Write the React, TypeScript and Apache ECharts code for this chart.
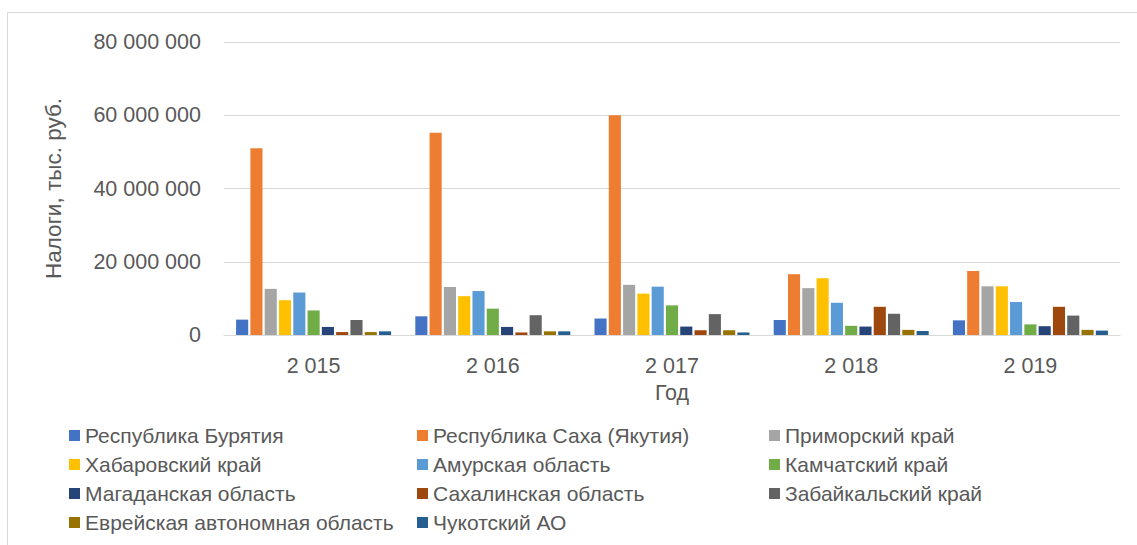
import React, { useEffect, useRef } from "react";
import * as echarts from "echarts";

const years = ["2 015", "2 016", "2 017", "2 018", "2 019"];
const regions = [
  "Республика Бурятия",
  "Республика Саха (Якутия)",
  "Приморский край",
  "Хабаровский край",
  "Амурская область",
  "Камчатский край",
  "Магаданская область",
  "Сахалинская область",
  "Забайкальский край",
  "Еврейская автономная область",
  "Чукотский АО",
];
const colors = [
  "#4472C4", "#ED7D31", "#A5A5A5", "#FFC000", "#5B9BD5", "#70AD47",
  "#264478", "#9E480E", "#636363", "#997300", "#255E91",
];
// values in thousand rubles, per region, for 2015..2019
const buryatia = [4200000, 5100000, 4500000, 4100000, 4000000];
const sakha = [51000000, 55200000, 60000000, 16600000, 17500000];
const primorsky = [12600000, 13100000, 13700000, 12800000, 13300000];
const khabarovsk = [9500000, 10600000, 11300000, 15500000, 13300000];
const amur = [11600000, 12000000, 13200000, 8800000, 9000000];
const kamchatka = [6700000, 7200000, 8100000, 2500000, 2900000];
const magadan = [2200000, 2200000, 2300000, 2300000, 2400000];
const sakhalin = [800000, 700000, 1300000, 7700000, 7700000];
const zabaikal = [4100000, 5400000, 5700000, 5800000, 5300000];
const jewish = [800000, 1000000, 1300000, 1400000, 1400000];
const chukotka = [1000000, 1000000, 700000, 1100000, 1200000];
const seriesValues = [
  buryatia, sakha, primorsky, khabarovsk, amur, kamchatka,
  magadan, sakhalin, zabaikal, jewish, chukotka,
];
const yTicks = { min: 0, max: 80000000, interval: 20000000 };
const legendColumns = [
  [0, 3, 6, 9],
  [1, 4, 7, 10],
  [2, 5, 8],
];
const legendLefts = [64, 412, 764];

const FONT = "'Liberation Sans', Arial, sans-serif";
const TEXT = "#595959";

function fmt(v: number): string {
  return String(Math.round(v)).replace(/\B(?=(\d{3})+(?!\d))/g, " ");
}

export default function App() {
  const ref = useRef<HTMLDivElement>(null);
  useEffect(() => {
    document.body.style.margin = "0";
    const chart = echarts.init(ref.current!, null, { renderer: "svg" });
    chart.setOption({
      animation: false,
      textStyle: { fontFamily: FONT },
      graphic: [
        {
          type: "rect",
          shape: { x: 7.5, y: 12.5, width: 1160, height: 560 },
          style: { fill: "none", stroke: "#d9d9d9", lineWidth: 1 },
          silent: true,
          z: -10,
        },
      ],
      grid: { left: 224, right: 17, top: 42, bottom: 210, containLabel: false },
      legend: legendColumns.map((col, i) => ({
        orient: "vertical",
        left: legendLefts[i],
        top: 420,
        itemWidth: 11,
        itemHeight: 11,
        itemGap: 8,
        icon: "rect",
        data: col.map((k) => regions[k]),
        textStyle: { fontSize: 21, color: TEXT, fontFamily: FONT, lineHeight: 20 },
        selectedMode: false,
      })),
      xAxis: {
        type: "category",
        data: years,
        name: "Год",
        nameLocation: "middle",
        nameGap: 44,
        nameTextStyle: { fontSize: 21.5, color: TEXT, fontFamily: FONT },
        axisLine: { show: true, lineStyle: { color: "#d9d9d9", width: 1 } },
        axisTick: { show: false },
        axisLabel: { fontSize: 21.5, color: TEXT, margin: 20, fontFamily: FONT },
      },
      yAxis: {
        type: "value",
        min: yTicks.min,
        max: yTicks.max,
        interval: yTicks.interval,
        name: "Налоги, тыс. руб.",
        nameLocation: "middle",
        nameGap: 159,
        nameTextStyle: { fontSize: 22.5, color: TEXT, fontFamily: FONT },
        axisLine: { show: false },
        axisTick: { show: false },
        axisLabel: {
          fontSize: 21.5,
          color: TEXT,
          margin: 23,
          fontFamily: FONT,
          formatter: (v: number) => fmt(v),
        },
        splitLine: { lineStyle: { color: "#d9d9d9", width: 1 } },
      },
      series: regions.map((name, i) => ({
        name,
        type: "bar",
        data: seriesValues[i],
        itemStyle: { color: colors[i] },
        barCategoryGap: "13.5%",
        barGap: "18%",
      })),
      color: colors,
    });
    return () => chart.dispose();
  }, []);
  return (
    <div
      ref={ref}
      style={{ position: "absolute", left: 0, top: 0, width: 1137, height: 545 }}
    />
  );
}
